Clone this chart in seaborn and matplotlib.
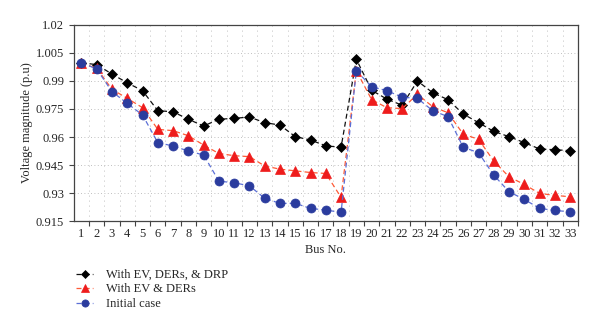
import matplotlib
matplotlib.use("Agg")
import matplotlib.pyplot as plt
import seaborn as sns
import numpy as np
import pandas as pd

buses = list(range(1, 34))
drp = [0.9998, 0.9987, 0.9937, 0.9890, 0.9848, 0.9741, 0.9735, 0.9695, 0.9659, 0.9695,
       0.9700, 0.9707, 0.9677, 0.9664, 0.9602, 0.9584, 0.9553, 0.9545, 1.0016, 0.9850,
       0.9803, 0.9770, 0.9900, 0.9837, 0.9800, 0.9723, 0.9677, 0.9630, 0.9602, 0.9570,
       0.9536, 0.9532, 0.9527]
ev_ders = [0.9995, 0.9968, 0.9855, 0.9807, 0.9757, 0.9641, 0.9634, 0.9607, 0.9557, 0.9512,
           0.9500, 0.9495, 0.9445, 0.9428, 0.9419, 0.9410, 0.9405, 0.9277, 0.9955, 0.9800,
           0.9757, 0.9752, 0.9829, 0.9762, 0.9730, 0.9615, 0.9588, 0.9471, 0.9387, 0.9346,
           0.9298, 0.9288, 0.9280]
initial = [0.9998, 0.9964, 0.9843, 0.9780, 0.9718, 0.9570, 0.9552, 0.9525, 0.9504, 0.9364,
           0.9355, 0.9339, 0.9272, 0.9245, 0.9245, 0.9218, 0.9209, 0.9197, 0.9955, 0.9869,
           0.9848, 0.9813, 0.9807, 0.9741, 0.9709, 0.9545, 0.9516, 0.9396, 0.9307, 0.9266,
           0.9218, 0.9207, 0.9200]
series_names = ["With EV, DERs, & DRP", "With EV & DERs", "Initial case"]
ytick_vals = [0.915, 0.93, 0.945, 0.96, 0.975, 0.99, 1.005, 1.02]
ytick_labels = ["0.915", "0.93", "0.945", "0.96", "0.975", "0.99", "1.005", "1.02"]

sns.set_style("ticks")
plt.rcParams["font.family"] = ["Liberation Serif", "DejaVu Serif"]

fig = plt.figure(figsize=(6.0, 3.32), dpi=100)
ax = fig.add_axes([0.123, 0.334, 0.840, 0.591])

styles = [
    dict(data=drp, line="#111111", mk="D", mfc="#000000", mec="#000000", ms=5.5),
    dict(data=ev_ders, line="#ff5a36", mk="^", mfc="#ee1c1c", mec="#ee1c1c", ms=6.5),
    dict(data=initial, line="#5b6fd6", mk="o", mfc="#2b3c9e", mec="#2b3c9e", ms=6.5),
]
for name, st in zip(series_names, styles):
    df = pd.DataFrame({"bus": buses, "v": st["data"]})
    sns.lineplot(data=df, x="bus", y="v", ax=ax, color=st["line"], linestyle=(0, (4, 2.5)),
                 linewidth=0.9, marker=st["mk"], markersize=st["ms"],
                 markerfacecolor=st["mfc"], markeredgecolor=st["mec"], markeredgewidth=0.5,
                 label=name, legend=False)

ax.set_xlim(0.5, 33.5)
ax.set_ylim(0.915, 1.02)
ax.set_xticks(buses)
ax.set_xticklabels([str(b) for b in buses], fontsize=9)
ax.set_xticks(np.arange(1.5, 34.0, 1.0), minor=True)
ax.tick_params(axis="x", which="major", length=0, pad=5)
ax.tick_params(axis="x", which="minor", length=3.5, width=0.8, color="#444444")
ax.set_yticks(ytick_vals)
ax.set_yticklabels(ytick_labels, fontsize=9)
ax.tick_params(axis="y", length=3.5, width=0.8, color="#444444")

ax.grid(False)
ax.grid(True, axis="x", which="minor", color="#aaaaaa", linestyle=(0, (1, 5)), linewidth=0.6)
ax.grid(True, axis="y", which="major", color="#aaaaaa", linestyle=(0, (1, 3)), linewidth=0.6)
ax.set_axisbelow(True)
for sp in ax.spines.values():
    sp.set_visible(True)
    sp.set_color("#444444")
    sp.set_linewidth(0.9)

ax.set_xlabel("Bus No.", fontsize=9, labelpad=3)
ax.set_ylabel("Voltage magnitude (p.u)", fontsize=9, labelpad=2)

handles, labels = ax.get_legend_handles_labels()
fig.legend(handles, labels, loc="upper left", bbox_to_anchor=(0.118, 0.205), frameon=False,
           fontsize=9, handlelength=1.4, handletextpad=1.0, labelspacing=0.2, borderaxespad=0,
           markerscale=0.8)

fig.savefig("out.png", dpi=100)
